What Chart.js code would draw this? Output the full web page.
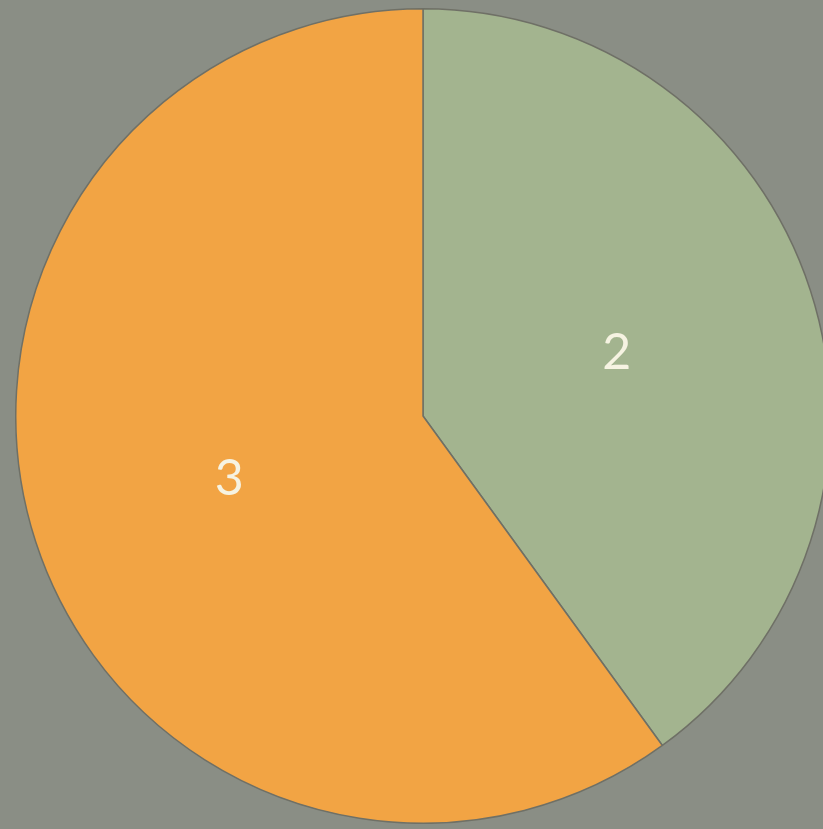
<!DOCTYPE html>
<html>
<head>
<meta charset="utf-8">
<script src="https://cdn.jsdelivr.net/npm/chart.js@4/dist/chart.umd.min.js"></script>
<style>
  html, body { margin: 0; padding: 0; width: 823px; height: 829px; overflow: hidden; background: #8a8e85; }
  #wrap { position: absolute; left: 15px; top: 8px; width: 816px; height: 816px; }
</style>
</head>
<body>
<div id="wrap"><canvas id="c"></canvas></div>
<script>
const categories = ['A', 'B'];
const values = [2, 3];
const sliceColors = ['#a3b48f', '#f2a444'];

// Writes each slice's value at the middle of its arc
const valueLabels = {
  id: 'valueLabels',
  afterDatasetsDraw(chart) {
    const ctx = chart.ctx;
    const meta = chart.getDatasetMeta(0);
    ctx.save();
    ctx.font = '50px Lato, "Open Sans", sans-serif';
    ctx.fillStyle = '#f6f3e2';
    ctx.textAlign = 'center';
    ctx.textBaseline = 'middle';
    meta.data.forEach((arc, i) => {
      const p = arc.tooltipPosition();
      ctx.fillText(String(chart.data.datasets[0].data[i]), p.x, p.y);
    });
    ctx.restore();
  }
};

new Chart(document.getElementById('c'), {
  type: 'pie',
  data: {
    labels: categories,
    datasets: [{
      data: values,
      backgroundColor: sliceColors,
      borderColor: '#6f7066',
      borderWidth: 1.5
    }]
  },
  options: {
    responsive: true,
    maintainAspectRatio: false,
    animation: false,
    layout: { padding: 0 },
    plugins: {
      legend: { display: false },
      tooltip: { enabled: false }
    }
  },
  plugins: [valueLabels]
});
</script>
</body>
</html>
